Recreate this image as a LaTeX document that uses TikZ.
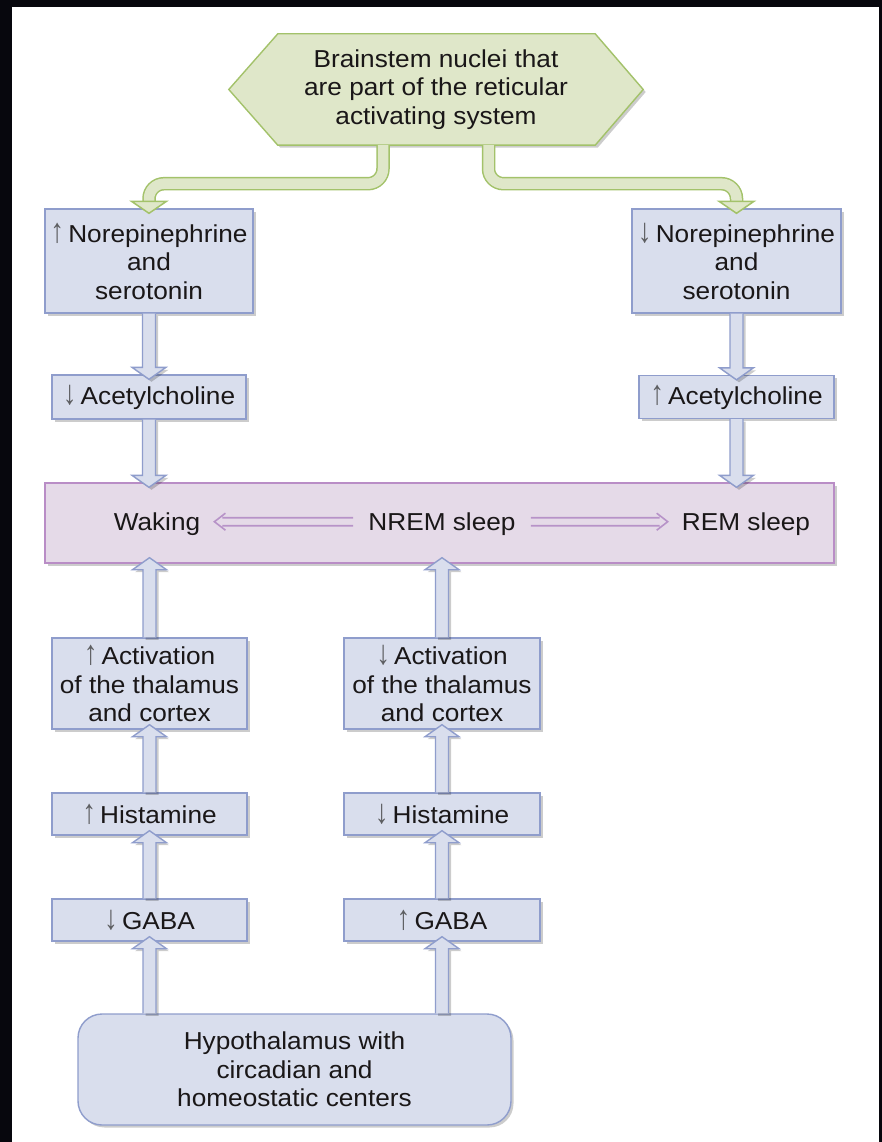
\documentclass[tikz,border=0pt]{standalone}
\usepackage{fontspec}
\setmainfont{Liberation Sans}[FakeStretch=1.07]
\usetikzlibrary{shadows,backgrounds,arrows.meta,calc}
\definecolor{bfill}{HTML}{D9DEED}
\definecolor{bline}{HTML}{8F9DCC}
\definecolor{pfill}{HTML}{E5DAE8}
\definecolor{pline}{HTML}{B98DC6}
\definecolor{purp}{HTML}{B793C8}
\definecolor{gfill}{HTML}{DFE7C9}
\definecolor{gline}{HTML}{A3C26A}
\definecolor{textc}{HTML}{1A1718}
\definecolor{arrc}{HTML}{5D5E61}
\definecolor{frame}{HTML}{07070D}
\newcommand\blkdown[2]{\filldraw[barrow] let \p1=(#1), \p2=(#2) in
  (\x1-6.5pt,\y1) -- (\x1-6.5pt,\y2+12pt) -- (\x1-17pt,\y2+12pt) -- (\x1,\y2)
  -- (\x1+17pt,\y2+12pt) -- (\x1+6.5pt,\y2+12pt) -- (\x1+6.5pt,\y1);}
\newcommand\blkup[2]{\filldraw[barrow] let \p1=(#1), \p2=(#2) in
  (\x1-6.5pt,\y1) -- (\x1-6.5pt,\y2-12pt) -- (\x1-17pt,\y2-12pt) -- (\x1,\y2)
  -- (\x1+17pt,\y2-12pt) -- (\x1+6.5pt,\y2-12pt) -- (\x1+6.5pt,\y1);}
% horizontal double arrow: #1 start node anchor, #2 end node anchor, #3 direction (1 or -1)
\newcommand\dblarr[3]{\draw[dblline] let \p1=(#1), \p2=(#2) in
  ({\x1+(#3)*15pt},{\y1+6.3pt}) -- ({\x2-(#3)*22pt},{\y1+6.3pt})
  ({\x1+(#3)*15pt},{\y1-1.7pt}) -- ({\x2-(#3)*22pt},{\y1-1.7pt})
  ({\x2-(#3)*25pt},{\y1+10.8pt}) .. controls ({\x2-(#3)*19pt},{\y1+6pt}) .. ({\x2-(#3)*14pt},{\y1+2.3pt})
  .. controls ({\x2-(#3)*19pt},{\y1-1.4pt}) .. ({\x2-(#3)*25pt},{\y1-6.2pt});}
\newcommand\up{{\color{arrc}\scalebox{1.05}[1.4]{↑}}\,}
\newcommand\dn{{\color{arrc}\scalebox{1.05}[1.4]{↓}}\,}
\begin{document}
\begin{tikzpicture}[x=1pt,y=-1pt,
  shadowed/.style={drop shadow={shadow xshift=2.5pt,shadow yshift=-2.5pt,opacity=0.2,fill=black}},
  txt/.style={font=\fontsize{24.5}{28.5}\selectfont, text=textc, align=center},
  bbox/.style={txt, draw=bline, fill=bfill, line width=1.4pt, inner sep=0pt, shadowed},
  pbox/.style={draw=pline, fill=pfill, line width=1.4pt, inner sep=0pt, shadowed},
  barrow/.style={draw=bline, fill=bfill, line width=1.4pt, line join=miter, shadowed},
  gpipe/.style={draw=gline, line width=1.5pt, double=gfill, double distance=10.5pt, rounded corners=15pt},
  ghead/.style={draw=gline, fill=gfill, line width=1.5pt, line join=miter},
  dblline/.style={draw=purp, line width=1.6pt, line cap=butt},
  plain/.style={txt, inner sep=0pt}
]
% hexagon text
\node[txt, minimum width=414pt, minimum height=111pt, inner sep=0pt] (hex) at (436,89.5)
  {Brainstem nuclei that\\are part of the reticular\\activating system};
\begin{scope}[on background layer]
  \fill[frame] (0,0) rectangle (882,1142);
  \fill[white] (12,7) rectangle (879,1142);
  \filldraw[draw=gline, fill=gfill, line width=1.4pt, shadowed]
    ([xshift=49pt]hex.north west) -- ([xshift=-48pt]hex.north east) -- (hex.east)
    -- ([xshift=-48pt]hex.south east) -- ([xshift=49pt]hex.south west) -- (hex.west) -- cycle;
\end{scope}
\useasboundingbox (0,0) rectangle (882,1142);

% boxes
\node[bbox, minimum width=208pt, minimum height=104pt] (ne1) at (149,261) {\up Norepinephrine\\and\\serotonin};
\node[bbox, minimum width=209pt, minimum height=104pt] (ne2) at (736.5,261) {\dn Norepinephrine\\and\\serotonin};
\node[bbox, minimum width=194pt, minimum height=44pt] (ach1) at (149,397) {\dn Acetylcholine};
\node[bbox, minimum width=195pt, minimum height=43pt] (ach2) at (736.5,397) {\up Acetylcholine};
\node[pbox, minimum width=789pt, minimum height=80pt] (sleep) at (439.5,523) {};
\node[plain] (wak) at (157,524) {Waking};
\node[plain] (nrem) at (442,524) {NREM sleep};
\node[plain] (rem) at (746,524) {REM sleep};
\node[bbox, minimum width=195pt, minimum height=91pt] (act1) at (149.5,683.5) {\up Activation\\of the thalamus\\and cortex};
\node[bbox, minimum width=196pt, minimum height=91pt] (act2) at (442,683.5) {\dn Activation\\of the thalamus\\and cortex};
\node[bbox, minimum width=195pt, minimum height=42pt] (hist1) at (149.5,814) {\up Histamine};
\node[bbox, minimum width=196pt, minimum height=42pt] (hist2) at (442,814) {\dn Histamine};
\node[bbox, minimum width=195pt, minimum height=42pt] (gaba1) at (149.5,920) {\dn GABA};
\node[bbox, minimum width=196pt, minimum height=42pt] (gaba2) at (442,920) {\up GABA};
\node[bbox, rounded corners=24pt, minimum width=433pt, minimum height=111pt] (hypo) at (294.5,1069.5)
  {Hypothalamus with\\circadian and\\homeostatic centers};

% green pipes
\draw[gpipe] ([xshift=-53pt]hex.south) -- ++(0,38.5) -| ([yshift=7pt]ne1.north);
\filldraw[ghead] ([shift={(-17.5pt,7pt)}]ne1.north) -- ([shift={(17.5pt,7pt)}]ne1.north) -- ([yshift=-5pt]ne1.north) -- cycle;
\draw[gpipe] ([xshift=52.5pt]hex.south) -- ++(0,38.5) -| ([yshift=7pt]ne2.north);
\filldraw[ghead] ([shift={(-17.5pt,7pt)}]ne2.north) -- ([shift={(17.5pt,7pt)}]ne2.north) -- ([yshift=-5pt]ne2.north) -- cycle;

% blue block arrows
\blkdown{ne1.south}{[yshift=-5pt]ach1.north}
\blkdown{ne2.south}{[yshift=-5pt]ach2.north}
\blkdown{ach1.south}{[yshift=-5pt]sleep.north}
\blkdown{ach2.south}{[yshift=-5pt]sleep.north}
\blkup{act1.north}{[yshift=6pt]sleep.south}
\blkup{act2.north}{[yshift=6pt]sleep.south}
\blkup{hist1.north}{[yshift=5pt]act1.south}
\blkup{hist2.north}{[yshift=5pt]act2.south}
\blkup{gaba1.north}{[yshift=5pt]hist1.south}
\blkup{gaba2.north}{[yshift=5pt]hist2.south}
\blkup{hypo.north -| gaba1.south}{[yshift=5pt]gaba1.south}
\blkup{hypo.north -| gaba2.south}{[yshift=5pt]gaba2.south}

% double arrows in the sleep bar
\dblarr{nrem.west}{wak.east}{-1}
\dblarr{nrem.east}{rem.west}{1}
\end{tikzpicture}
\end{document}
